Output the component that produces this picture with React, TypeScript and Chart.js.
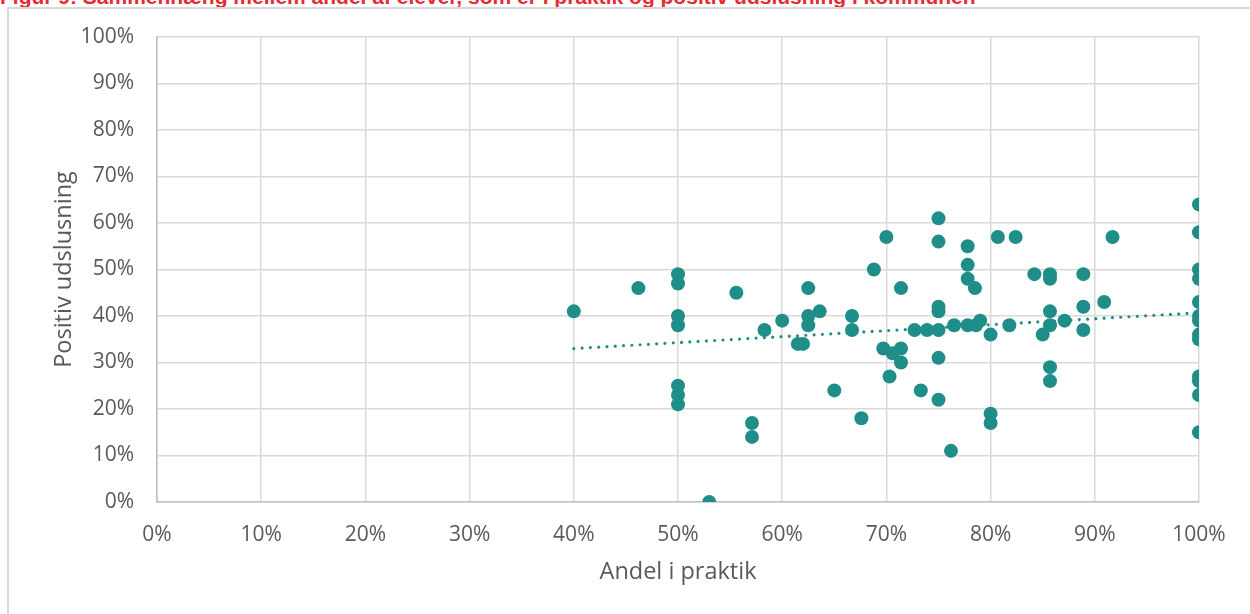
import React, { useEffect, useRef } from 'react';
import { Chart, registerables } from 'chart.js';

Chart.register(...registerables);

const titleText =
  'Figur 9: Sammenhæng mellem andel af elever, som er i praktik og positiv udslusning i kommunen';
const xAxisTitle = 'Andel i praktik';
const yAxisTitle = 'Positiv udslusning';

// Andel i praktik (%) per kommune
const andelIPraktik = [
  40, 46.2, 50, 50, 50, 50, 50, 50, 50, 53,
  55.6, 57.1, 57.1, 58.3, 60, 61.5, 62, 62.5, 62.5, 62.5,
  63.6, 65, 66.7, 66.7, 67.6, 68.8, 69.7, 70, 70.3, 70.6,
  71.4, 71.4, 71.4, 72.7, 73.3, 73.9, 75, 75, 75, 75,
  75, 75, 75, 76.2, 76.5, 77.8, 77.8, 77.8, 77.8, 78.5,
  78.6, 79, 80, 80, 80, 80.7, 81.8, 82.4, 84.2, 85,
  85.7, 85.7, 85.7, 85.7, 85.7, 85.7, 87.1, 88.9, 88.9, 88.9,
  90.9, 91.7, 100, 100, 100, 100, 100, 100, 100, 100,
  100, 100, 100, 100, 100,
];

// Positiv udslusning (%) per kommune
const positivUdslusning = [
  41, 46, 49, 47, 40, 38, 25, 23, 21, 0,
  45, 17, 14, 37, 39, 34, 34, 46, 40, 38,
  41, 24, 40, 37, 18, 50, 33, 57, 27, 32,
  46, 33, 30, 37, 24, 37, 61, 56, 42, 41,
  37, 31, 22, 11, 38, 55, 51, 48, 38, 46,
  38, 39, 36, 19, 17, 57, 38, 57, 49, 36,
  49, 48, 41, 38, 29, 26, 39, 49, 42, 37,
  43, 57, 64, 58, 50, 48, 43, 40, 39, 36,
  35, 27, 26, 23, 15,
];

// Lineær tendenslinje (endepunkter)
const trendX = [40, 100];
const trendY = [33.0, 40.7];

const TEAL = '#1F8E89';
const TEXT = '#595959';
const FONT = "'Open Sans', sans-serif";

export default function App() {
  const ref = useRef<HTMLCanvasElement>(null);

  useEffect(() => {
    const points = andelIPraktik.map((x, i) => ({ x, y: positivUdslusning[i] }));
    const trend = trendX.map((x, i) => ({ x, y: trendY[i] }));
    const chart = new Chart(ref.current as HTMLCanvasElement, {
      type: 'scatter',
      data: {
        datasets: [
          {
            label: 'Kommuner',
            data: points,
            backgroundColor: TEAL,
            borderColor: TEAL,
            pointRadius: 7,
            pointBorderWidth: 0,
            pointHoverRadius: 7,
          },
          {
            type: 'line',
            label: 'Tendens',
            data: trend,
            borderColor: TEAL,
            borderWidth: 3.2,
            borderDash: [0, 8.3],
            borderCapStyle: 'round',
            pointRadius: 0,
            fill: false,
            showLine: true,
          } as any,
        ],
      },
      options: {
        responsive: false,
        animation: false,
        layout: { padding: { top: 37, right: 51, left: 0, bottom: 0 } },
        plugins: {
          legend: { display: false },
          tooltip: { enabled: false },
        },
        scales: {
          x: {
            type: 'linear',
            min: 0,
            max: 100,
            afterFit: (s: any) => {
              s.height = 112;
            },
            ticks: {
              stepSize: 10,
              callback: (v: any) => v + '%',
              color: TEXT,
              font: { family: FONT, size: 21 },
              padding: 20,
              maxRotation: 0,
            },
            grid: { color: '#D9D9D9', lineWidth: 1.5, drawTicks: false },
            border: { color: '#BFBFBF', width: 1.5 },
            title: {
              display: true,
              text: xAxisTitle,
              color: TEXT,
              font: { family: FONT, size: 23.5 },
              padding: { top: 0, bottom: 28 },
            },
          },
          y: {
            type: 'linear',
            min: 0,
            max: 100,
            afterFit: (s: any) => {
              s.width = 157;
            },
            ticks: {
              stepSize: 10,
              callback: (v: any) => v + '%',
              color: TEXT,
              font: { family: FONT, size: 21 },
              padding: 23,
            },
            grid: { color: '#D9D9D9', lineWidth: 1.5, drawTicks: false },
            border: { color: '#BFBFBF', width: 1.5 },
            title: {
              display: true,
              text: yAxisTitle,
              color: TEXT,
              font: { family: FONT, size: 23.5 },
              padding: { top: 50, bottom: 0 },
            },
          },
        },
      },
    });
    return () => chart.destroy();
  }, []);

  return (
    <div
      style={{
        position: 'fixed',
        left: 0,
        top: 0,
        width: 1250,
        height: 614,
        overflow: 'hidden',
        background: '#fff',
      }}
    >
      <div
        style={{
          position: 'absolute',
          left: 0,
          top: -15,
          whiteSpace: 'nowrap',
          fontFamily: "'Liberation Sans', Arial, sans-serif",
          fontWeight: 700,
          fontSize: 21,
          lineHeight: '24px',
          color: '#E52B34',
        }}
      >
        {titleText}
      </div>
      <div
        style={{
          position: 'absolute',
          left: 7,
          top: 7,
          width: 1300,
          height: 700,
          border: '2px solid #D9D9D9',
        }}
      />
      <canvas
        ref={ref}
        width={1250}
        height={614}
        style={{ position: 'absolute', left: 0, top: 0, width: 1250, height: 614 }}
      />
    </div>
  );
}
